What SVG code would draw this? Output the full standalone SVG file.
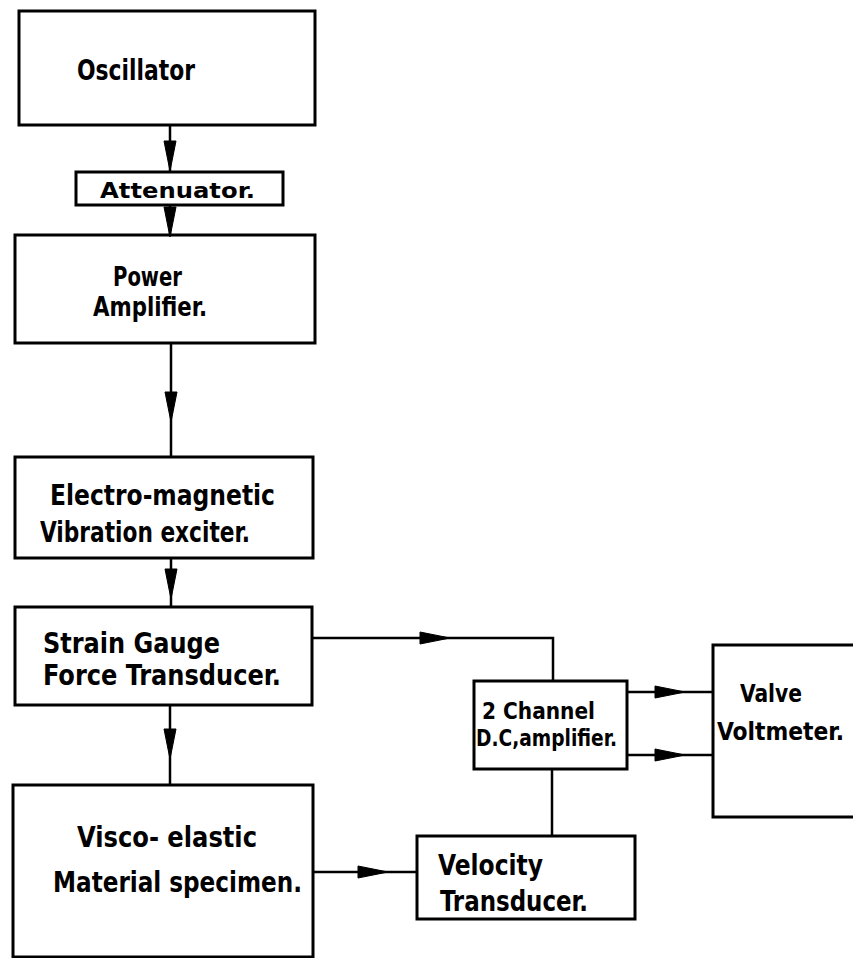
<svg xmlns="http://www.w3.org/2000/svg" xmlns:xlink="http://www.w3.org/1999/xlink" width="853" height="958" viewBox="0 0 853 958">
<style>
.box{fill:none;stroke:#000;stroke-width:3;stroke-linejoin:miter}
.ln{fill:none;stroke:#000;stroke-width:2.5}
.ah{fill:#000;stroke:#000;stroke-width:1}
text{font-family:"DejaVu Sans Condensed","DejaVu Sans","Liberation Sans",sans-serif;font-weight:bold;font-size:28px;fill:#000}
.sm{font-size:22px}
.md{font-size:23px}
.pa{font-size:26px}
.vm{font-size:25px}
</style>
<defs>
<path id="ahd" d="M-6,-15 L6,-15 L0,15 Z"/>
<path id="ahr" d="M-15,-6 L15,0 L-15,6 Z"/>
</defs>
<rect width="853" height="958" fill="#fff"/>
<g id="connectors">
<line class="ln" x1="170" y1="125" x2="170" y2="172"/>
<use class="ah" xlink:href="#ahd" x="170" y="156"/>
<line class="ln" x1="170" y1="205" x2="170" y2="235"/>
<use class="ah" xlink:href="#ahd" x="170" y="222"/>
<line class="ln" x1="171" y1="343" x2="171" y2="457"/>
<use class="ah" xlink:href="#ahd" x="171" y="407"/>
<line class="ln" x1="171" y1="558" x2="171" y2="607"/>
<use class="ah" xlink:href="#ahd" x="171" y="584"/>
<line class="ln" x1="170" y1="705" x2="170" y2="785"/>
<use class="ah" xlink:href="#ahd" x="170" y="744"/>
<polyline class="ln" points="312,638 553,638 553,681"/>
<use class="ah" xlink:href="#ahr" x="435" y="638"/>
<line class="ln" x1="627" y1="692" x2="713" y2="692"/>
<use class="ah" xlink:href="#ahr" x="670" y="692"/>
<line class="ln" x1="627" y1="755" x2="713" y2="755"/>
<use class="ah" xlink:href="#ahr" x="670" y="755"/>
<line class="ln" x1="552" y1="769" x2="552" y2="836"/>
<line class="ln" x1="313" y1="872" x2="417" y2="872"/>
<use class="ah" xlink:href="#ahr" x="373" y="872"/>
</g>
<g id="oscillator">
<rect class="box" x="19" y="11" width="296" height="114"/>
<text x="77" y="80" textLength="118" lengthAdjust="spacingAndGlyphs">Oscillator</text>
</g>
<g id="attenuator">
<rect class="box" x="76" y="172" width="207" height="33"/>
<text class="sm" x="100" y="198" textLength="155" lengthAdjust="spacingAndGlyphs">Attenuator.</text>
</g>
<g id="power-amplifier">
<rect class="box" x="15" y="235" width="300" height="108"/>
<text class="pa" x="113" y="286" textLength="69" lengthAdjust="spacingAndGlyphs">Power</text>
<text class="pa" x="93" y="316" textLength="114" lengthAdjust="spacingAndGlyphs">Amplifier.</text>
</g>
<g id="vibration-exciter">
<rect class="box" x="15" y="457" width="298" height="101"/>
<text x="50" y="505" textLength="225" lengthAdjust="spacingAndGlyphs">Electro-magnetic</text>
<text x="40" y="542" textLength="210" lengthAdjust="spacingAndGlyphs">Vibration exciter.</text>
</g>
<g id="force-transducer">
<rect class="box" x="15" y="607" width="297" height="98"/>
<text x="43" y="653" textLength="177" lengthAdjust="spacingAndGlyphs">Strain  Gauge</text>
<text x="43" y="685" textLength="238" lengthAdjust="spacingAndGlyphs">Force  Transducer.</text>
</g>
<g id="specimen">
<rect class="box" x="13" y="785" width="300" height="172"/>
<text x="77" y="847" textLength="180" lengthAdjust="spacingAndGlyphs">Visco- elastic</text>
<text x="53" y="892" textLength="249" lengthAdjust="spacingAndGlyphs">Material  specimen.</text>
</g>
<g id="dc-amplifier">
<rect class="box" x="474" y="681" width="153" height="88"/>
<text class="md" x="482" y="719" textLength="113" lengthAdjust="spacingAndGlyphs">2 Channel</text>
<text class="md" x="476" y="746" textLength="141" lengthAdjust="spacingAndGlyphs">D.C,amplifier.</text>
</g>
<g id="valve-voltmeter">
<rect class="box" x="713" y="645" width="150" height="172"/>
<text class="vm" x="740" y="702" textLength="62" lengthAdjust="spacingAndGlyphs">Valve</text>
<text class="vm" x="717" y="740" textLength="127" lengthAdjust="spacingAndGlyphs">Voltmeter.</text>
</g>
<g id="velocity-transducer">
<rect class="box" x="417" y="836" width="218" height="83"/>
<text x="438" y="875" textLength="105" lengthAdjust="spacingAndGlyphs">Velocity</text>
<text x="440" y="911" textLength="148" lengthAdjust="spacingAndGlyphs">Transducer.</text>
</g>
</svg>
